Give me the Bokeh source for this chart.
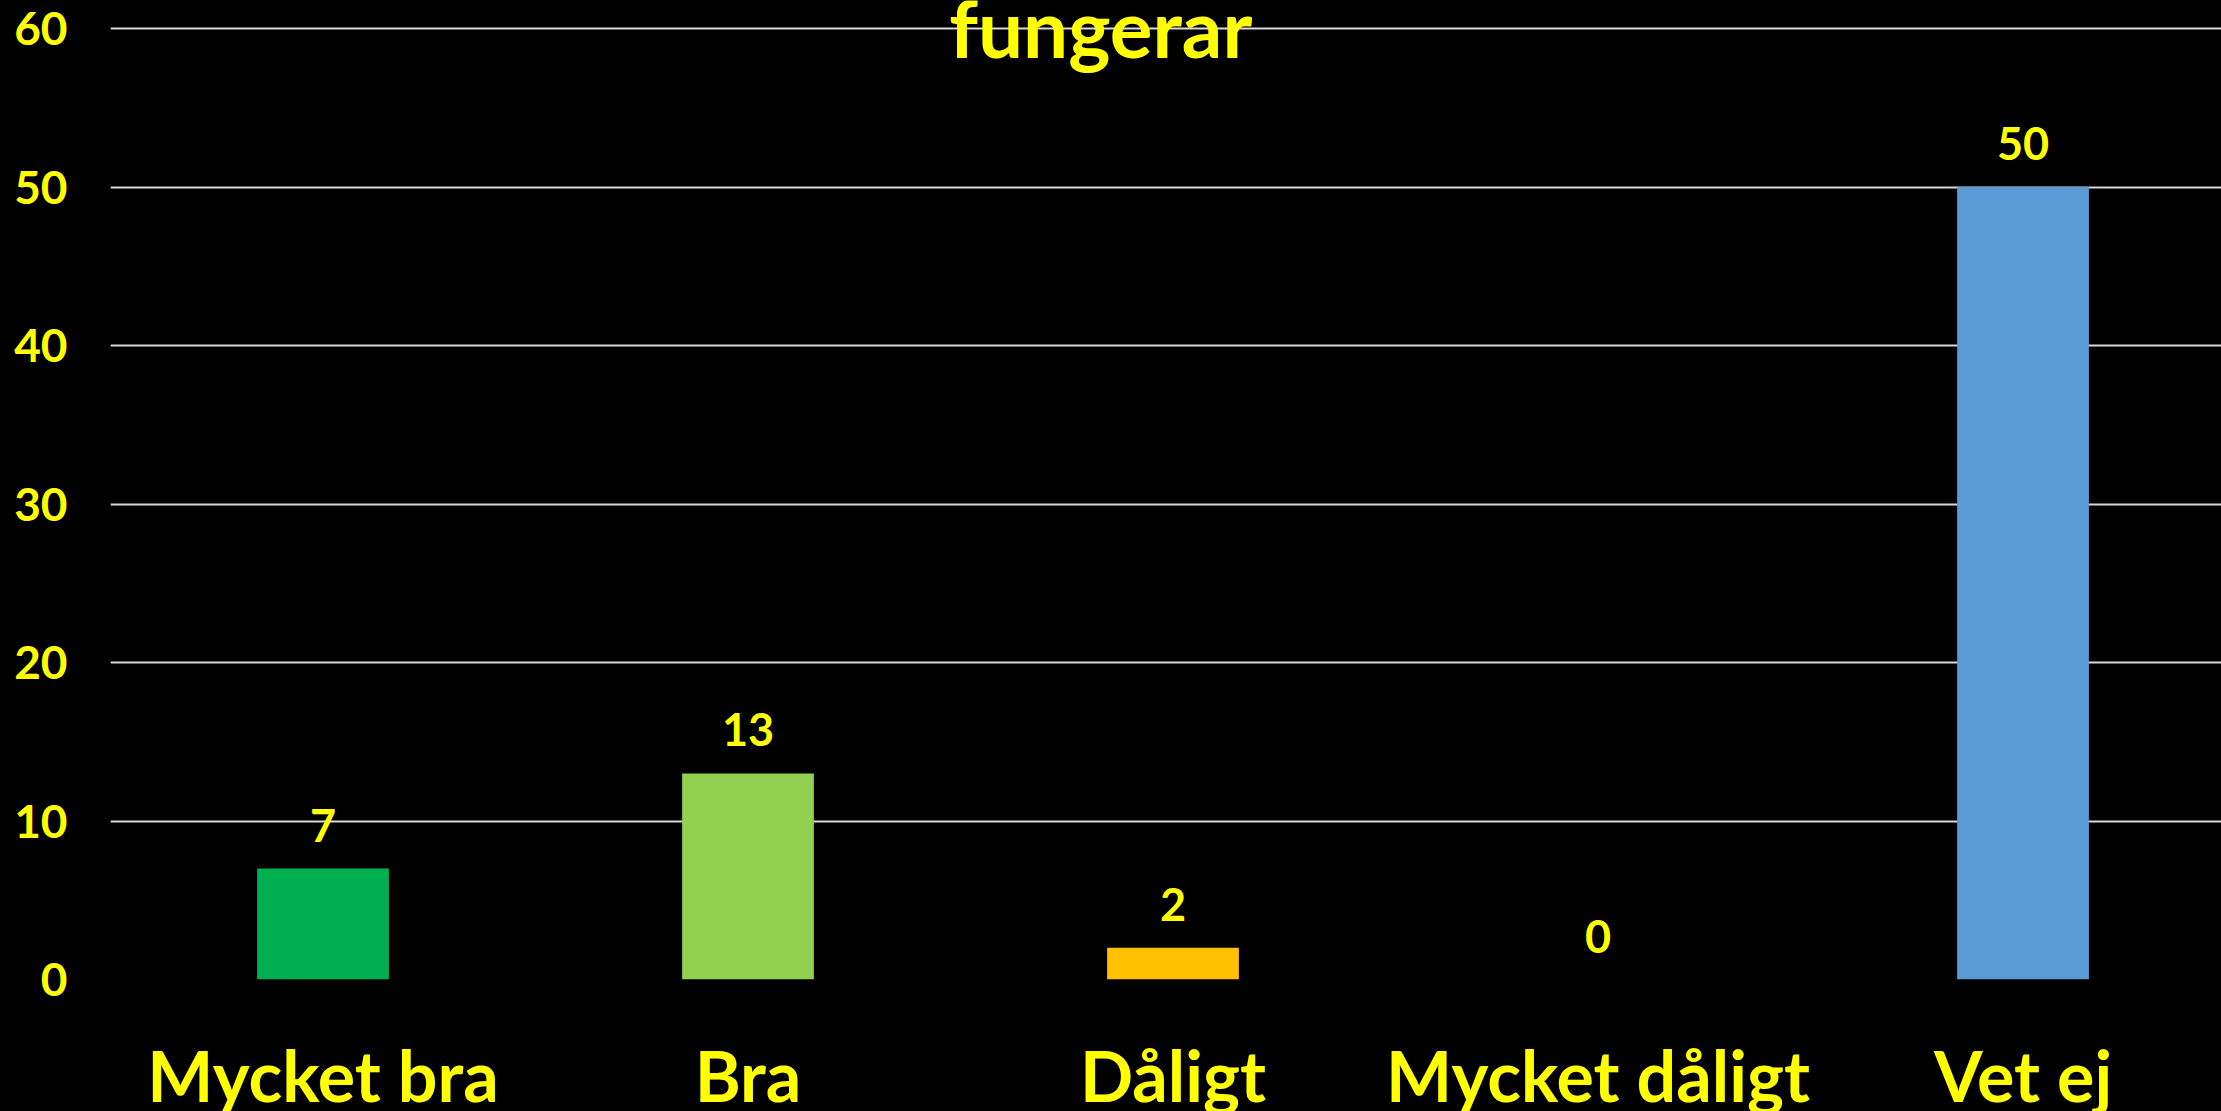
from bokeh.plotting import figure
from bokeh.models import (ColumnDataSource, LabelSet, Label, FixedTicker, Range1d,
                          GlobalInlineStyleSheet)
from bokeh.core.properties import value
from bokeh.embed import file_html
from bokeh.resources import INLINE

# ---- data ----
categories = ["Mycket bra", "Bra", "Dåligt", "Mycket dåligt", "Vet ej"]
values = [7, 13, 2, 0, 50]
colors = ["#00B050", "#92D050", "#FFC000", "#A5A5A5", "#5B9BD5"]
y_ticks = [0, 10, 20, 30, 40, 50, 60]
title_text = "fungerar"

FONT = "Lato"
YELLOW = "#FFFF00"

xpos = list(range(len(categories)))
src = ColumnDataSource(dict(x=xpos, top=values, color=colors,
                            label=[str(v) for v in values]))

p = figure(frame_width=2111, frame_height=979, output_backend="svg",
           toolbar_location=None,
           x_range=Range1d(-0.5, 4.467), y_range=Range1d(0, 61.77),
           min_border_left=110, min_border_right=0, min_border_top=0,
           min_border_bottom=100)
p.stylesheets = [GlobalInlineStyleSheet(
    css="html, body { background: #000000; overflow: hidden; }")]

p.background_fill_color = "black"
p.border_fill_color = "black"
p.outline_line_color = None

p.vbar(x="x", top="top", bottom=0, width=0.31, fill_color="color",
       line_color=None, source=src)

labels = LabelSet(x="x", y="top", text="label", source=src, text_align="center",
                  text_baseline="alphabetic", y_offset=27, text_color=YELLOW,
                  text_font=value(FONT), text_font_style="bold",
                  text_font_size="45px")
p.add_layout(labels)

# grid
p.xgrid.grid_line_color = None
p.ygrid.grid_line_color = "#D9D9D9"
p.ygrid.grid_line_width = 2
p.yaxis.ticker = FixedTicker(ticks=y_ticks)
p.xaxis.ticker = FixedTicker(ticks=xpos)
p.xaxis.major_label_overrides = {i: c for i, c in zip(xpos, categories)}

for ax in (p.xaxis, p.yaxis):
    ax.axis_line_color = None
    ax.major_tick_line_color = None
    ax.minor_tick_line_color = None
    ax.major_tick_out = 0
    ax.major_tick_in = 0
    ax.major_label_text_color = YELLOW
    ax.major_label_text_font = FONT
    ax.major_label_text_font_style = "bold"

p.yaxis.major_label_text_font_size = "46px"
p.yaxis.major_label_standoff = 43
p.xaxis.major_label_text_font_size = "70px"
p.xaxis.major_label_standoff = 53

title = Label(x=1.83, y=60.1, text=title_text, text_align="center",
              text_baseline="alphabetic", text_color=YELLOW, text_font=FONT,
              text_font_style="bold", text_font_size="80px")
p.add_layout(title)

open("out.html", "w").write(file_html(p, INLINE))
